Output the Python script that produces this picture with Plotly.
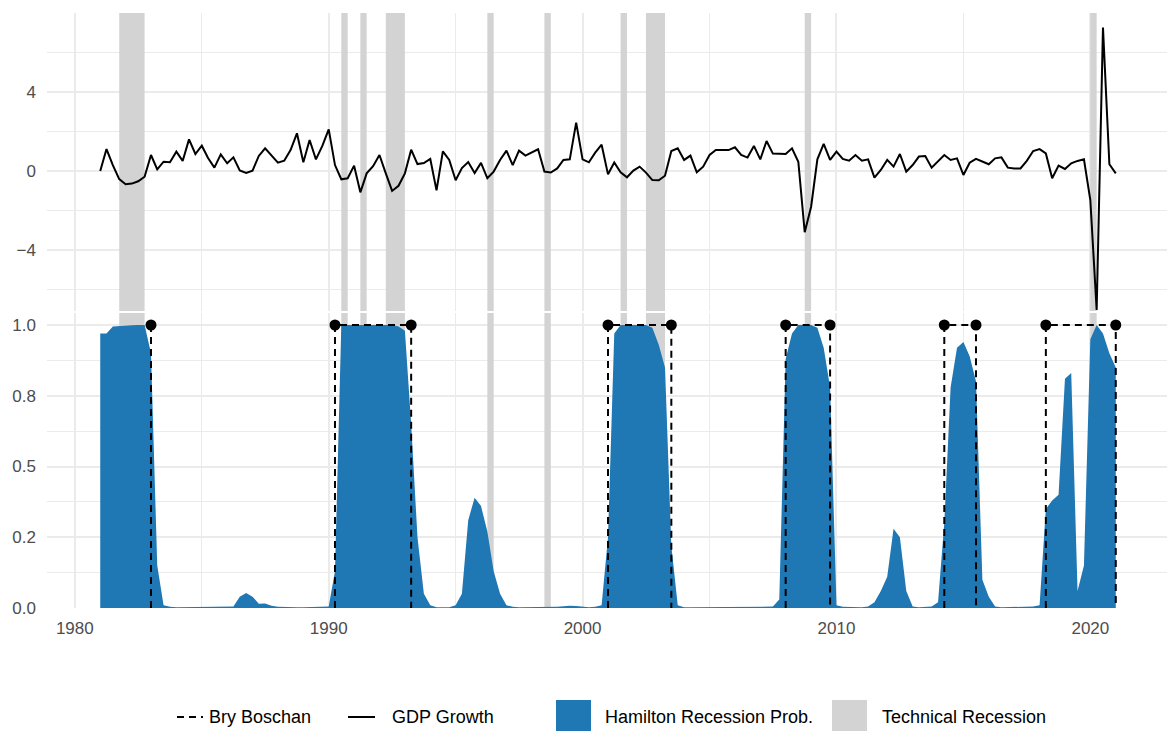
import pandas as pd
import plotly.graph_objects as go

# ---------------- data ----------------
first_quarter = "1981-01-01"

gdp_growth = [
    0.00, 1.11, 0.30, -0.41,      # 1981
    -0.67, -0.64, -0.52, -0.29,   # 1982
    0.81, 0.08, 0.47, 0.44,       # 1983
    0.98, 0.51, 1.60, 0.86,       # 1984
    1.28, 0.66, 0.17, 0.84,       # 1985
    0.39, 0.69, 0.03, -0.10,      # 1986
    0.02, 0.76, 1.15, 0.78,       # 1987
    0.42, 0.52, 1.06, 1.91,       # 1988
    0.44, 1.57, 0.59, 1.27,       # 1989
    2.11, 0.30, -0.42, -0.37,     # 1990
    0.27, -1.08, -0.12, 0.24,     # 1991
    0.81, -0.12, -1.01, -0.75,    # 1992
    -0.12, 1.08, 0.35, 0.40,      # 1993
    0.61, -0.98, 0.99, 0.56,      # 1994
    -0.47, 0.15, 0.45, -0.10,     # 1995
    0.41, -0.37, -0.03, 0.56,     # 1996
    1.03, 0.30, 1.03, 0.78,       # 1997
    0.93, 1.10, -0.03, -0.08,     # 1998
    0.13, 0.56, 0.59, 2.45,       # 1999
    0.59, 0.44, 0.93, 1.33,       # 2000
    -0.17, 0.43, -0.07, -0.32,    # 2001
    0.02, 0.22, -0.08, -0.46,     # 2002
    -0.47, -0.24, 1.01, 1.15,     # 2003
    0.56, 0.78, -0.07, 0.22,      # 2004
    0.81, 1.06, 1.06, 1.06,       # 2005
    1.20, 0.81, 0.68, 1.27,       # 2006
    0.59, 1.52, 0.88, 0.88,       # 2007
    0.86, 1.15, 0.47, -3.10,      # 2008
    -1.81, 0.59, 1.37, 0.56,      # 2009
    0.98, 0.61, 0.52, 0.81,       # 2010
    0.52, 0.59, -0.34, 0.05,      # 2011
    0.56, 0.22, 0.86, -0.03,      # 2012
    0.30, 0.73, 0.76, 0.17,       # 2013
    0.47, 0.81, 0.56, 0.64,       # 2014
    -0.20, 0.42, 0.61, 0.47,      # 2015
    0.34, 0.64, 0.69, 0.17,       # 2016
    0.13, 0.13, 0.51, 1.01,       # 2017
    1.11, 0.89, -0.37, 0.27,      # 2018
    0.10, 0.39, 0.51, 0.59,       # 2019
    -1.47, -7.04, 7.26, 0.34,     # 2020
    -0.12,                        # 2021
]

hamilton_prob = [
    0.970, 0.970, 0.995, 0.997,   # 1981
    0.998, 0.999, 1.000, 1.000,   # 1982
    0.900, 0.150, 0.010, 0.004,   # 1983
    0.003, 0.003, 0.003, 0.003,   # 1984
    0.003, 0.003, 0.003, 0.003,   # 1985
    0.003, 0.005, 0.040, 0.053,   # 1986
    0.040, 0.015, 0.016, 0.008,   # 1987
    0.004, 0.003, 0.003, 0.003,   # 1988
    0.003, 0.003, 0.003, 0.003,   # 1989
    0.005, 0.130, 1.000, 1.000,   # 1990
    1.000, 1.000, 1.000, 1.000,   # 1991
    1.000, 1.000, 1.000, 0.995,   # 1992
    0.980, 0.650, 0.250, 0.050,   # 1993
    0.010, 0.003, 0.003, 0.003,   # 1994
    0.010, 0.050, 0.310, 0.390,   # 1995
    0.360, 0.270, 0.130, 0.050,   # 1996
    0.010, 0.004, 0.003, 0.003,   # 1997
    0.003, 0.003, 0.003, 0.003,   # 1998
    0.004, 0.006, 0.008, 0.007,   # 1999
    0.004, 0.003, 0.004, 0.010,   # 2000
    0.250, 0.970, 1.000, 1.000,   # 2001
    1.000, 1.000, 1.000, 0.990,   # 2002
    0.930, 0.850, 0.220, 0.010,   # 2003
    0.003, 0.003, 0.003, 0.003,   # 2004
    0.003, 0.003, 0.003, 0.003,   # 2005
    0.003, 0.003, 0.003, 0.003,   # 2006
    0.003, 0.003, 0.005, 0.030,   # 2007
    0.880, 0.970, 1.000, 1.000,   # 2008
    1.000, 0.990, 0.920, 0.780,   # 2009
    0.010, 0.004, 0.003, 0.003,   # 2010
    0.003, 0.005, 0.020, 0.060,   # 2011
    0.110, 0.280, 0.250, 0.060,   # 2012
    0.005, 0.003, 0.003, 0.005,   # 2013
    0.020, 0.300, 0.780, 0.920,   # 2014
    0.940, 0.890, 0.800, 0.100,   # 2015
    0.040, 0.005, 0.003, 0.003,   # 2016
    0.003, 0.003, 0.003, 0.005,   # 2017
    0.010, 0.350, 0.380, 0.400,   # 2018
    0.810, 0.830, 0.060, 0.150,   # 2019
    0.950, 1.000, 0.970, 0.900,   # 2020
    0.850,                        # 2021
]

tech_rec_start = ["1981-10-01", "1990-07-01", "1991-04-01", "1992-04-01", "1996-04-01",
                  "1998-07-01", "2001-07-01", "2002-07-01", "2008-10-01", "2020-01-01"]
tech_rec_end = ["1982-10-01", "1990-10-01", "1991-07-01", "1993-01-01", "1996-07-01",
                "1998-10-01", "2001-10-01", "2003-04-01", "2009-01-01", "2020-04-01"]

bb_peak = [None, "1990-04-01", "2001-01-01", "2008-01-01", "2014-04-01", "2018-04-01"]
bb_trough = ["1983-01-01", "1993-04-01", "2003-07-01", "2009-10-01", "2015-07-01", "2021-01-01"]

year_ticks = [1980, 1990, 2000, 2010, 2020]
year_minor = [1985, 1995, 2005, 2015]
gdp_ticks = [-4, 0, 4]
gdp_tick_text = ["\u22124", "0", "4"]
gdp_minor = [-6, -2, 2, 6]
prob_ticks = [0, 0.25, 0.5, 0.75, 1.0]
prob_tick_text = ["0.0", "0.2", "0.5", "0.8", "1.0"]
prob_minor = [0.125, 0.375, 0.625, 0.875]

legend_labels = ["Bry Boschan", "GDP Growth", "Hamilton Recession Prob.", "Technical Recession"]

# ---------------- layout constants ----------------
W, H = 1170, 731
L, R, T, B = 47, 1167, 13, 608          # plot area in pixels
BLUE = "#1F77B4"
GREY_BAND = "#D3D3D3"
GRID = "#EBEBEB"
FONT = "Liberation Sans, Arial, sans-serif"

top_range = [-7.09, 8.0]
bot_range = [0.0, 1.0424]
top_domain = [(B - 311) / (B - T), 1.0]
bot_domain = [0.0, (B - 313) / (B - T)]

quarters = pd.date_range(first_quarter, periods=len(gdp_growth), freq="QS")

fig = go.Figure()

# Hamilton area (bottom panel)
fig.add_trace(go.Scatter(
    x=quarters, y=hamilton_prob, mode="lines", fill="tozeroy",
    line=dict(width=0, color=BLUE), fillcolor=BLUE,
    xaxis="x", yaxis="y2", showlegend=False, hoverinfo="skip"))

# Bry Boschan dashed outline
bx, by, dx = [], [], []
for p, t in zip(bb_peak, bb_trough):
    if p is None:
        bx += [t, t, None]
        by += [1, 0, None]
        dx += [t]
    else:
        bx += [p, p, t, t, None]
        by += [0, 1, 1, 0, None]
        dx += [p, t]
fig.add_trace(go.Scatter(
    x=bx, y=by, mode="lines", line=dict(color="black", width=2, dash="7px,5px"),
    xaxis="x", yaxis="y2", showlegend=False, connectgaps=False, hoverinfo="skip"))
fig.add_trace(go.Scatter(
    x=dx, y=[1] * len(dx), mode="markers", marker=dict(color="black", size=11),
    xaxis="x", yaxis="y2", showlegend=False, hoverinfo="skip"))

# GDP growth line (top panel)
fig.add_trace(go.Scatter(
    x=quarters, y=gdp_growth, mode="lines", line=dict(color="black", width=2),
    xaxis="x", yaxis="y", showlegend=False))

# Technical recession bands in both panels
shapes = []
for s, e in zip(tech_rec_start, tech_rec_end):
    shapes.append(dict(type="rect", xref="x", yref="y", x0=s, x1=e,
                       y0=top_range[0], y1=top_range[1], fillcolor=GREY_BAND,
                       line=dict(width=0), layer="between"))
    shapes.append(dict(type="rect", xref="x", yref="y2", x0=s, x1=e,
                       y0=bot_range[0], y1=bot_range[1], fillcolor=GREY_BAND,
                       line=dict(width=0), layer="between"))

# ---------------- manual legend ----------------
def px(xp):
    return (xp - L) / (R - L)

def py(yp):
    return (B - yp) / (B - T)

LEG_Y = 717
annotations = []
# dashed key
shapes.append(dict(type="line", xref="paper", yref="paper", x0=px(177), x1=px(203),
                   y0=py(LEG_Y), y1=py(LEG_Y), line=dict(color="black", width=2, dash="7px,5px")))
# solid key
shapes.append(dict(type="line", xref="paper", yref="paper", x0=px(348), x1=px(375),
                   y0=py(LEG_Y), y1=py(LEG_Y), line=dict(color="black", width=2)))
# fill keys
shapes.append(dict(type="rect", xref="paper", yref="paper", x0=px(556), x1=px(591),
                   y0=py(LEG_Y + 17), y1=py(LEG_Y - 17), fillcolor=BLUE, line=dict(width=0)))
shapes.append(dict(type="rect", xref="paper", yref="paper", x0=px(832), x1=px(867),
                   y0=py(LEG_Y + 17), y1=py(LEG_Y - 17), fillcolor=GREY_BAND, line=dict(width=0)))
for label, xpos in zip(legend_labels, [207, 390, 603, 880]):
    annotations.append(dict(text=label, xref="paper", yref="paper", x=px(xpos), y=py(LEG_Y),
                            xanchor="left", yanchor="middle", showarrow=False,
                            font=dict(family=FONT, size=18, color="#000000")))

axis_font = dict(family=FONT, size=17, color="#4D4D4D")

fig.update_layout(
    width=W, height=H,
    margin=dict(l=L, r=W - R, t=T, b=H - B, pad=0),
    paper_bgcolor="white", plot_bgcolor="white",
    shapes=shapes, annotations=annotations,
    showlegend=False,
    xaxis=dict(
        type="date", anchor="y2", domain=[0, 1],
        range=["1978-11-27", "2023-01-08"],
        tickvals=[f"{y}-01-01" for y in year_ticks], ticktext=[str(y) for y in year_ticks],
        showgrid=True, gridcolor=GRID, gridwidth=2, zeroline=False, showline=False,
        ticks="", ticklabelstandoff=8, tickfont=axis_font,
        minor=dict(tickvals=[f"{y}-01-01" for y in year_minor], showgrid=True,
                   gridcolor=GRID, gridwidth=1, ticks=""),
    ),
    yaxis=dict(
        domain=top_domain, anchor="x", range=top_range,
        tickvals=gdp_ticks, ticktext=gdp_tick_text,
        showgrid=True, gridcolor=GRID, gridwidth=2, zeroline=False, showline=False,
        ticks="", ticklabelstandoff=10, tickfont=axis_font,
        minor=dict(tickvals=gdp_minor, showgrid=True, gridcolor=GRID, gridwidth=1, ticks=""),
    ),
    yaxis2=dict(
        domain=bot_domain, anchor="x", range=bot_range,
        tickvals=prob_ticks, ticktext=prob_tick_text,
        showgrid=True, gridcolor=GRID, gridwidth=2, zeroline=False, showline=False,
        ticks="", ticklabelstandoff=10, tickfont=axis_font,
        minor=dict(tickvals=prob_minor, showgrid=True, gridcolor=GRID, gridwidth=1, ticks=""),
    ),
)

fig.write_html("out.html")
